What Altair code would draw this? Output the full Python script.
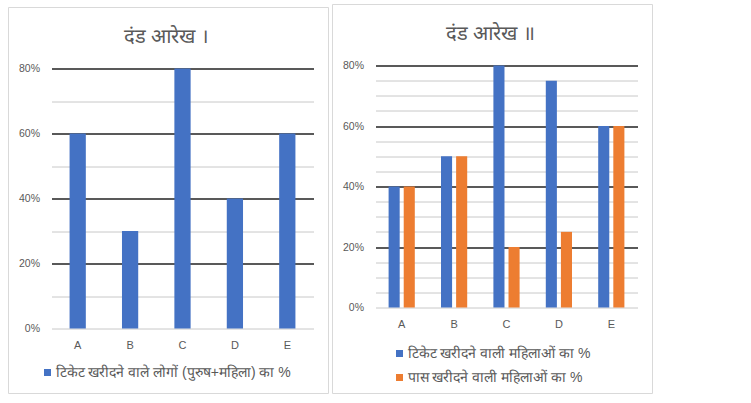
import altair as alt
import pandas as pd

# ---------------- data ----------------
categories = ["A", "B", "C", "D", "E"]

title_left = "दंड आरेख ।"
series_left = "टिकेट खरीदने वाले लोगों (पुरुष+महिला) का %"
values_left = [0.60, 0.30, 0.80, 0.40, 0.60]

title_right = "दंड आरेख ॥"
series_right_1 = "टिकेट खरीदने वाली महिलाओं का %"
series_right_2 = "पास खरीदने वाली महिलाओं का %"
values_right_1 = [0.40, 0.50, 0.80, 0.75, 0.60]
values_right_2 = [0.40, 0.50, 0.20, 0.25, 0.60]

ticks_left = [0.0, 0.1, 0.2, 0.3, 0.4, 0.5, 0.6, 0.7, 0.8]
ticks_right = [0.0, 0.05, 0.1, 0.15, 0.2, 0.25, 0.3, 0.35, 0.4, 0.45,
               0.5, 0.55, 0.6, 0.65, 0.7, 0.75, 0.8]

BLUE = "#4472C4"
ORANGE = "#ED7D31"
TEXT = "#595959"
FONT = "Liberation Sans"

df_left = pd.DataFrame({"cat": categories, "val": values_left, "series": series_left})
df_right = pd.concat([
    pd.DataFrame({"cat": categories, "val": values_right_1, "series": series_right_1}),
    pd.DataFrame({"cat": categories, "val": values_right_2, "series": series_right_2}),
], ignore_index=True)

MAJOR_TEST = "datum.value > 0.001 && round(datum.value*100) % 20 == 0"


def y_axis(values):
    return alt.Axis(
        values=values,
        labelExpr="round(datum.value*100) % 20 == 0 ? round(datum.value*100) + '%' : ''",
        domain=False, ticks=False, title=None,
        labelPadding=12, labelColor=TEXT, labelFontSize=10.5, labelFont=FONT,
        gridColor={"condition": {"test": MAJOR_TEST, "value": "#595959"}, "value": "#c8c8c8"},
        gridWidth={"condition": {"test": MAJOR_TEST, "value": 2}, "value": 1},
    )


x_axis = alt.Axis(labelAngle=0, domain=False, ticks=False, title=None,
                  labelPadding=11, labelColor=TEXT, labelFontSize=11, labelFont=FONT)


def frame(x1, x2, y1, y2):
    return alt.Chart(pd.DataFrame({"k": [0]})).mark_rect(
        fillOpacity=0, stroke="#d9d9d9", strokeWidth=1
    ).encode(x=alt.value(x1), x2=alt.value(x2), y=alt.value(y1), y2=alt.value(y2))


def title_mark(text, x, y):
    return alt.Chart(pd.DataFrame({"t": [text]})).mark_text(
        fontSize=20, color=TEXT, baseline="middle", align="center"
    ).encode(text="t:N", x=alt.value(x), y=alt.value(y))


def legend(x, y):
    return alt.Legend(orient="none", legendX=x, legendY=y, title=None,
                      direction="vertical",
                      symbolType="square", symbolSize=49, symbolStrokeWidth=0,
                      labelFontSize=14, labelColor=TEXT, labelLimit=500,
                      labelOffset=1, rowPadding=10, padding=0)


# ---------------- left panel ----------------
bars_left = alt.Chart(df_left).mark_bar().encode(
    x=alt.X("cat:N", axis=x_axis, scale=alt.Scale(paddingInner=0.69, paddingOuter=0.345)),
    y=alt.Y("val:Q", axis=y_axis(ticks_left),
            scale=alt.Scale(domain=[0, 0.8], nice=False, range=[263, 3])),
    color=alt.Color("series:N", scale=alt.Scale(range=[BLUE]), legend=legend(-11, 300)),
)

left = alt.layer(
    frame(-43, 277, -58, 328),
    title_mark(title_left, 115, -29),
    bars_left,
).properties(width=262, height=263)

# ---------------- right panel ----------------
bars_right = alt.Chart(df_right).mark_bar().encode(
    x=alt.X("cat:N", axis=x_axis, scale=alt.Scale(paddingInner=0.5, paddingOuter=0.25)),
    xOffset=alt.XOffset("series:N", sort=[series_right_1, series_right_2],
                        scale=alt.Scale(paddingInner=4 / 15, paddingOuter=0)),
    y=alt.Y("val:Q", axis=y_axis(ticks_right), scale=alt.Scale(domain=[0, 0.8], nice=False)),
    color=alt.Color("series:N", sort=[series_right_1, series_right_2],
                    scale=alt.Scale(domain=[series_right_1, series_right_2], range=[BLUE, ORANGE]),
                    legend=legend(17, 281)),
)

right = alt.layer(
    frame(-43, 277, -61, 328),
    title_mark(title_right, 115, -32),
    bars_right,
).properties(width=262, height=242)

chart = alt.hconcat(left, right, spacing=2).resolve_scale(
    color="independent", x="independent", y="independent"
).configure(
    padding={"left": 7.5, "top": 3.5, "right": 0, "bottom": 0},
    font=FONT,
).configure_view(stroke=None)

chart.save("out.html", embed_options={"renderer": "svg", "actions": False})
